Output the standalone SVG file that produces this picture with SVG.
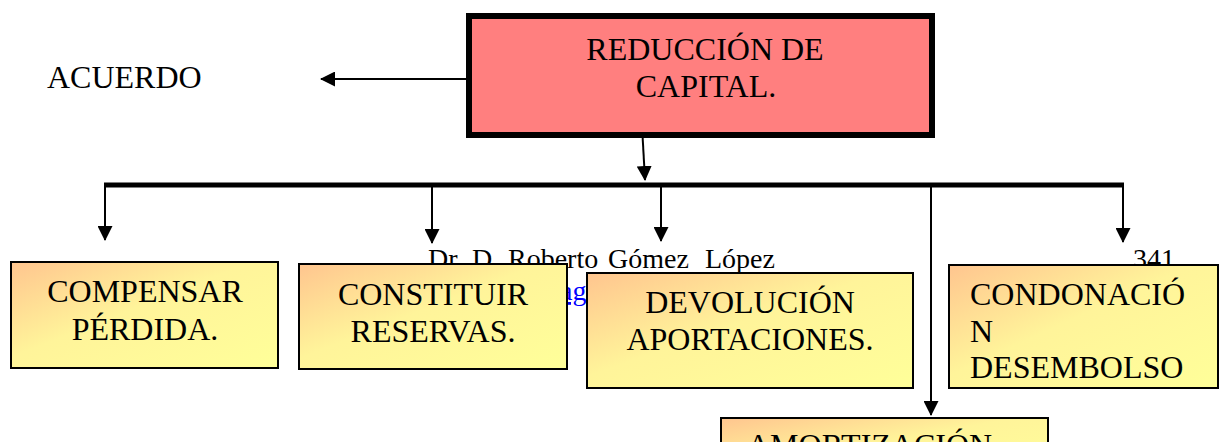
<svg xmlns="http://www.w3.org/2000/svg" width="1221" height="442" viewBox="0 0 1221 442">
<defs>
<linearGradient id="g" x1="0" y1="0" x2="1" y2="1">
<stop offset="0" stop-color="#FFC58F"/>
<stop offset="0.45" stop-color="#FFF49A"/>
<stop offset="1" stop-color="#FFFF99"/>
</linearGradient>
<marker id="arr" markerUnits="userSpaceOnUse" markerWidth="15" markerHeight="15" refX="14" refY="7.5" orient="auto" viewBox="0 0 15 15">
<path d="M0,0 L15,7.5 L0,15 z" fill="#000"/>
</marker>
<style>
.t{font-family:"Liberation Serif","Times New Roman",serif;font-size:32px;fill:#000}
.c{text-anchor:middle}
.box{fill:url(#g);stroke:#000;stroke-width:2}
.ln{stroke:#000;stroke-width:2;fill:none}
.bg{font-family:"Liberation Serif","Times New Roman",serif;font-size:28px;fill:#000}
</style>
</defs>
<rect width="1221" height="442" fill="#fff"/>

<g id="background-text">
<text class="bg" y="268"><tspan x="428">Dr.</tspan> <tspan x="472">D.</tspan> <tspan x="508">Roberto</tspan> <tspan x="608">Gómez</tspan> <tspan x="705">López</tspan></text>
<text class="bg" x="1133" y="268">341</text>
<text x="560" y="300" font-family="Liberation Serif, serif" font-size="28" fill="#0000FF" text-decoration="underline">ag</text>
</g>

<g id="connectors">
<line class="ln" x1="466" y1="79" x2="321" y2="79" marker-end="url(#arr)"/>
<line class="ln" x1="642" y1="126" x2="645" y2="180" marker-end="url(#arr)"/>
<line x1="104" y1="185" x2="1124" y2="185" stroke="#000" stroke-width="5"/>
<line class="ln" x1="105" y1="185" x2="105" y2="240" marker-end="url(#arr)"/>
<line class="ln" x1="432" y1="185" x2="432" y2="243" marker-end="url(#arr)"/>
<line class="ln" x1="661" y1="185" x2="661" y2="241" marker-end="url(#arr)"/>
<line class="ln" x1="931" y1="185" x2="931" y2="415" marker-end="url(#arr)"/>
<line class="ln" x1="1123" y1="185" x2="1123" y2="242" marker-end="url(#arr)"/>
</g>

<g id="acuerdo">
<text class="t" x="47" y="88">ACUERDO</text>
</g>

<g id="reduccion">
<rect x="469" y="16" width="463" height="119" fill="#FF7F7F" stroke="#000" stroke-width="6"/>
<text class="t c" x="705" y="60">REDUCCIÓN DE</text>
<text class="t c" x="706" y="97">CAPITAL.</text>
</g>

<g id="compensar">
<rect class="box" x="11" y="262" width="267" height="106"/>
<text class="t c" x="145" y="302">COMPENSAR</text>
<text class="t c" x="145" y="340">PÉRDIDA.</text>
</g>

<g id="constituir">
<rect class="box" x="299" y="264" width="268" height="105"/>
<text class="t c" x="433" y="305">CONSTITUIR</text>
<text class="t c" x="433" y="342">RESERVAS.</text>
</g>

<g id="devolucion">
<rect class="box" x="587" y="273" width="326" height="115"/>
<text class="t c" x="750" y="313">DEVOLUCIÓN</text>
<text class="t c" x="750" y="350">APORTACIONES.</text>
</g>

<g id="condonacion">
<rect class="box" x="949" y="265" width="269" height="123"/>
<text class="t" x="970" y="305">CONDONACIÓ</text>
<text class="t" x="970" y="342">N</text>
<text class="t" x="970" y="378">DESEMBOLSO</text>
</g>

<g id="amortizacion">
<rect class="box" x="721" y="418" width="327" height="60"/>
<text class="t" x="747" y="456">AMORTIZACIÓN</text>
</g>
</svg>
